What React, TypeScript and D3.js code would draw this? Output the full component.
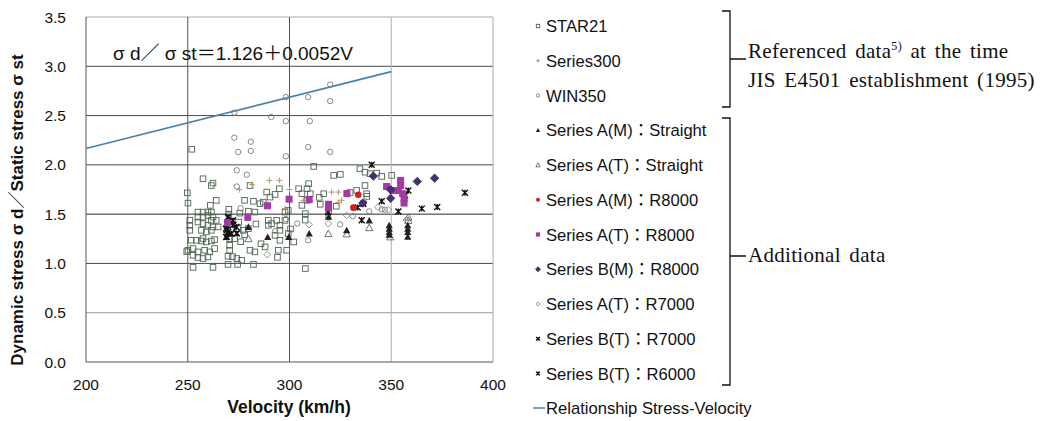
import React from "react";
import * as d3 from "d3";

type Pt = [number, number];

// Velocity (km/h) vs dynamic/static stress ratio, per test series
const star21: Pt[] = [
  [249.8, 1.716], [250.1, 1.612], [257.5, 1.859], [261.6, 1.79], [262.4, 1.815], [252.0, 2.158], [264, 1.64], [261.1, 1.589],
  [255, 1.521], [257.5, 1.521], [259.9, 1.521], [261.6, 1.521], [255, 1.47], [257.5, 1.47], [259.9, 1.487], [262.4, 1.47],
  [251, 1.437], [251, 1.387], [251, 1.336], [255, 1.42], [257.5, 1.404], [259.9, 1.387], [261.6, 1.437], [264, 1.437],
  [262.4, 1.37], [264.9, 1.37], [256.7, 1.336], [259.1, 1.319], [261.6, 1.336],
  [251.7, 1.235], [254.2, 1.235], [256.7, 1.228], [259.1, 1.218], [261.6, 1.228], [263.2, 1.242], [257.5, 1.252],
  [250.1, 1.134], [252.6, 1.151], [255, 1.117], [258.3, 1.134], [260.8, 1.117], [263.2, 1.151], [249.5, 1.12],
  [252.6, 1.083], [255, 1.06], [257.5, 1.05], [259.9, 1.066], [252.6, 0.96], [262.4, 0.96],
  [270.6, 1.252], [270.6, 1.184], [270.6, 1.134], [269.8, 1.073], [269.8, 0.99], [274.5, 0.99], [282.3, 0.99],
  [272, 1.069], [270.2, 1.55], [270.2, 1.5], [275.6, 1.51], [279.8, 1.53], [277.9, 1.64], [282.3, 1.63], [285.5, 1.606],
  [287.1, 1.622], [280.6, 1.79], [288.8, 1.724], [290.4, 1.673], [292.9, 1.7], [295, 1.758], [283, 1.521], [297.8, 1.521],
  [299.4, 1.538], [289.6, 1.437], [289.6, 1.387], [291.2, 1.404], [293.7, 1.437], [295.3, 1.387], [297.8, 1.437],
  [274.8, 1.353], [277.3, 1.336], [279.8, 1.353], [275, 1.42], [283.5, 1.4],
  [292.9, 1.285], [295.3, 1.235], [299.4, 1.303], [295.3, 1.336], [273, 1.25], [276, 1.22], [278, 1.29],
  [280.6, 1.134], [283, 1.117], [288, 1.167], [294.5, 1.134], [298.6, 1.134], [294.1, 1.062], [274.1, 1.05], [276.5, 1.032], [286, 1.2],
  [311.9, 1.984], [321.7, 1.893], [325, 1.903], [309.4, 1.809], [308.6, 1.758], [304.5, 1.758], [306.1, 1.707], [310.2, 1.707],
  [308.6, 1.64], [306.1, 1.589], [316.8, 1.707], [307.8, 1.505], [302.1, 1.218], [307.8, 0.948], [307.7, 1.44], [314.6, 1.67],
  [319.2, 1.53], [315.1, 1.6], [334.6, 1.96], [337.1, 1.926], [339.6, 1.91], [342.8, 1.916], [345.3, 1.883], [350.2, 1.893],
  [337.1, 1.79], [337.9, 1.707], [333, 1.741], [329.8, 1.72], [338, 1.68], [323, 1.58], [300.5, 1.35],
];

const series300: Pt[] = [
  [290.1, 1.842], [295.0, 1.842], [275.3, 1.748], [281.6, 1.8], [320.7, 1.724], [324.0, 1.724], [325.6, 1.64],
  [324.0, 1.62], [310.1, 1.64], [306.8, 1.64], [297.8, 1.556], [288.5, 1.62], [300, 1.75],
];

const win350: Pt[] = [
  [272.9, 2.53], [291.0, 2.485], [298.2, 2.687], [309.2, 2.687], [320.0, 2.815], [320.0, 2.647], [298.2, 2.444],
  [310.0, 2.444], [272.9, 2.276], [281.0, 2.235], [274.8, 2.131], [281.0, 2.141], [309.2, 2.181], [298.2, 2.087],
  [320.0, 2.131], [274.1, 1.945], [279.0, 1.9], [274.1, 1.78], [298.2, 1.45], [303.8, 1.404], [324.9, 1.396],
  [309.2, 1.235], [345.3, 1.549], [346.9, 1.545], [331.1, 1.48], [339.2, 1.528], [276, 1.56], [293, 1.33], [319, 1.47],
];

const aMStraight: Pt[] = [
  [269.1, 1.268], [279.8, 1.37], [289.3, 1.268], [299.6, 1.268], [309.7, 1.303], [319.2, 1.473], [328.1, 1.336],
  [339.2, 1.437], [349.0, 1.387], [349.0, 1.353], [349.0, 1.319], [349.0, 1.292], [358.1, 1.387], [358.1, 1.353],
  [358.1, 1.319], [358.1, 1.27], [269.5, 1.3],
];

const aTStraight: Pt[] = [
  [279.8, 1.252], [319.1, 1.303], [339.2, 1.363], [358.4, 1.47], [358.4, 1.437], [328.1, 1.3], [349.5, 1.27],
];

const aMR8000: Pt[] = [[333.8, 1.697], [331.4, 1.566]];

const aTR8000: Pt[] = [
  [269.5, 1.413], [279.5, 1.467], [289.2, 1.585], [299.8, 1.652], [309.7, 1.649], [319.2, 1.6], [319.2, 1.565],
  [328.2, 1.709], [347.7, 1.78], [354.6, 1.842], [354.6, 1.79], [353.5, 1.74], [355.6, 1.707], [356.3, 1.657],
  [356.3, 1.612], [351, 1.74],
];

const bMR8000: Pt[] = [[341.2, 1.886], [362.8, 1.832], [371.3, 1.865], [349.7, 1.748], [349.7, 1.66], [336, 1.612]];

const aTR7000: Pt[] = [[289.1, 1.09], [309.6, 1.394], [319.1, 1.404], [328.1, 1.488], [348.6, 1.545], [343.5, 1.57], [357.5, 1.44]];

const bTR7000: Pt[] = [
  [340.4, 2.0], [345.3, 1.63], [358.4, 1.741], [353.5, 1.528], [365, 1.556], [372.6, 1.572], [386.2, 1.718],
  [335.5, 1.437], [356.8, 1.69], [333.5, 1.568],
];

const bTR6000: Pt[] = [
  [269.8, 1.47], [272.2, 1.437], [268.9, 1.353], [269.8, 1.319], [268.9, 1.268], [272.2, 1.387], [271.4, 1.303],
  [273.9, 1.37], [269.2, 1.338], [274.1, 1.305], [319, 1.52], [336.3, 1.606],
];

// Regression: σd/σst = 1.126 + 0.0052 V, drawn from 200 to 350 km/h
const fitIntercept = 1.126;
const fitSlope = 0.0052;
const fitRange = [200, 350];

const xTicks = [200, 250, 300, 350, 400];
const yTicks = [0, 0.5, 1.0, 1.5, 2.0, 2.5, 3.0, 3.5];

const legendLabels = [
  "STAR21",
  "Series300",
  "WIN350",
  "Series A(M)：Straight",
  "Series A(T)：Straight",
  "Series A(M)：R8000",
  "Series A(T)：R8000",
  "Series B(M)：R8000",
  "Series A(T)：R7000",
  "Series B(T)：R7000",
  "Series B(T)：R6000",
];

type Kind = "sq" | "plus" | "circ" | "triF" | "triO" | "dot" | "sqF" | "diaF" | "diaO" | "star" | "x";

const SANS = "'Liberation Sans', Arial, 'Noto Sans CJK JP', sans-serif";
const SERIF = "'Liberation Serif', 'Times New Roman', serif";

function Marker({ kind, cx, cy, s = 1 }: { kind: Kind; cx: number; cy: number; s?: number }) {
  const t = `translate(${cx},${cy})`;
  switch (kind) {
    case "sq": {
      const h = 2.8 * s;
      return <rect x={cx - h} y={cy - h} width={2 * h} height={2 * h} fill="none" stroke="#4e6652" strokeWidth={0.9} />;
    }
    case "plus": {
      const h = 3 * s;
      return <path transform={t} d={`M${-h},0H${h}M0,${-h}V${h}`} stroke="#b89468" strokeWidth={1} fill="none" />;
    }
    case "circ":
      return <circle cx={cx} cy={cy} r={2.7 * s} fill="none" stroke="#7a7a7a" strokeWidth={0.9} />;
    case "triF": {
      const h = 3.6 * s;
      return <path transform={t} d={`M0,${-h}L${h},${h * 0.85}L${-h},${h * 0.85}Z`} fill="#222" />;
    }
    case "triO": {
      const h = 3.6 * s;
      return <path transform={t} d={`M0,${-h}L${h},${h * 0.85}L${-h},${h * 0.85}Z`} fill="none" stroke="#666" strokeWidth={0.9} />;
    }
    case "dot":
      return <circle cx={cx} cy={cy} r={3.3 * s} fill="#cc2020" />;
    case "sqF": {
      const h = 3.5 * s;
      return <rect x={cx - h} y={cy - h} width={2 * h} height={2 * h} fill="#a43aa4" />;
    }
    case "diaF": {
      const h = 4.2 * s;
      return <path transform={t} d={`M0,${-h}L${h},0L0,${h}L${-h},0Z`} fill="#4b2d80" stroke="#222" strokeWidth={0.7} />;
    }
    case "diaO": {
      const h = 3.4 * s;
      return <path transform={t} d={`M0,${-h}L${h},0L0,${h}L${-h},0Z`} fill="none" stroke="#888" strokeWidth={0.9} />;
    }
    case "star": {
      const h = 3 * s;
      return (
        <path transform={t} d={`M${-h},${-h}L${h},${h}M${-h},${h}L${h},${-h}M0,${-h}V${h}`} stroke="#111" strokeWidth={1.4} fill="none" />
      );
    }
    case "x": {
      const h = 3 * s;
      return (
        <path transform={t} d={`M${-h},${-h}L${h},${h}M${-h},${h}L${h},${-h}M0,${-h * 0.9}V${h * 0.9}`} stroke="#111" strokeWidth={1.6} fill="none" />
      );
    }
  }
  return null;
}

const seriesList: { data: Pt[]; kind: Kind }[] = [
  { data: star21, kind: "sq" },
  { data: series300, kind: "plus" },
  { data: win350, kind: "circ" },
  { data: aTR7000, kind: "diaO" },
  { data: aTStraight, kind: "triO" },
  { data: aMStraight, kind: "triF" },
  { data: bTR6000, kind: "x" },
  { data: bTR7000, kind: "star" },
  { data: aTR8000, kind: "sqF" },
  { data: aMR8000, kind: "dot" },
  { data: bMR8000, kind: "diaF" },
];

const legendKinds: Kind[] = ["sq", "plus", "circ", "triF", "triO", "dot", "sqF", "diaF", "diaO", "x", "star"];

export default function App() {
  const W = 1046;
  const H = 421;
  const x = d3.scaleLinear().domain([200, 400]).range([86, 493]);
  const y = d3.scaleLinear().domain([0, 3.5]).range([362, 17]);

  const fitLine = d3
    .line<number>()
    .x((v) => x(v))
    .y((v) => y(fitIntercept + fitSlope * v));

  const hGridColor = (v: number) => (v === 0.5 ? "#9a9a9a" : v === 3.5 ? "#a8a8a8" : v === 1.5 ? "#2a2a2a" : "#4a4a4a");
  const vGridColor = (v: number) => (v === 350 ? "#b0b0b0" : v === 400 ? "#a8a8a8" : "#555");

  const legendY0 = 26;
  const legendStep = 34.75;

  return (
    <svg
      width={W}
      height={H}
      style={{ position: "absolute", left: 0, top: 0, background: "#fff" }}
      fontFamily={SANS}
    >
      <rect width={W} height={H} fill="#fff" />
      {/* grid */}
      {yTicks.filter((v) => v > 0).map((v) => (
        <line key={"h" + v} x1={x(200)} x2={x(400)} y1={y(v)} y2={y(v)} stroke={hGridColor(v)} strokeWidth={1} />
      ))}
      {xTicks.filter((v) => v > 200).map((v) => (
        <line key={"v" + v} x1={x(v)} x2={x(v)} y1={y(0)} y2={y(3.5)} stroke={vGridColor(v)} strokeWidth={1} />
      ))}
      {/* axes */}
      <line x1={x(200)} x2={x(200)} y1={y(0)} y2={y(3.5)} stroke="#555" />
      <line x1={x(200)} x2={x(400)} y1={y(0)} y2={y(0)} stroke="#555" />

      {yTicks.map((v) => (
        <text key={"yt" + v} x={66} y={y(v) + 5.5} textAnchor="end" fontSize={15.5} fill="#111">
          {v.toFixed(1)}
        </text>
      ))}
      {xTicks.map((v) => (
        <text key={"xt" + v} x={x(v)} y={390} textAnchor="middle" fontSize={15.5} fill="#111">
          {v}
        </text>
      ))}
      <text x={289} y={413} textAnchor="middle" fontSize={17.5} fontWeight="bold" fill="#111">
        Velocity (km/h)
      </text>
      <text
        transform={`translate(23,210) rotate(-90)`}
        textAnchor="middle"
        fontSize={17}
        fontWeight="bold"
        fill="#111"
      >
        Dynamic stress σ d／Static stress σ st
      </text>

      {/* regression line */}
      <path d={fitLine(fitRange) || ""} fill="none" stroke="#4a80ad" strokeWidth={1.6} />
      <text x={113} y={60} fontSize={19} fill="#111">
        σ d／ σ st＝1.126＋0.0052V
      </text>

      {/* points */}
      {seriesList.map((s, i) => (
        <g key={"s" + i}>
          {s.data.map((p, j) => (
            <Marker key={j} kind={s.kind} cx={x(p[0])} cy={y(p[1])} />
          ))}
        </g>
      ))}

      {/* legend */}
      {legendLabels.map((lab, i) => {
        const cy = legendY0 + i * legendStep;
        return (
          <g key={"lg" + i}>
            <Marker kind={legendKinds[i]} cx={538} cy={cy} s={0.6} />
            <text x={546} y={cy + 6} fontSize={16.6} fill="#111">
              {lab}
            </text>
          </g>
        );
      })}
      <line x1={533} x2={545} y1={408} y2={408} stroke="#4a80ad" strokeWidth={1.5} />
      <text x={546} y={414} fontSize={16.6} fill="#111">
        Relationship Stress-Velocity
      </text>

      {/* group brackets */}
      <path d="M722,11H730V59H746M730,59V107H722" fill="none" stroke="#111" strokeWidth={1.3} />
      <path d="M722,118H730V256H746M730,256V385H722" fill="none" stroke="#111" strokeWidth={1.3} />
      <g fontFamily={SERIF} fontSize={21} fill="#111" letterSpacing={0.3} wordSpacing={3}>
        <text x={748} y={58}>
          Referenced data<tspan fontSize={12} dy={-8}>5)</tspan>
          <tspan dy={8}> at the time</tspan>
        </text>
        <text x={748} y={87}>JIS E4501 establishment (1995)</text>
        <text x={748} y={262}>Additional data</text>
      </g>
    </svg>
  );
}
